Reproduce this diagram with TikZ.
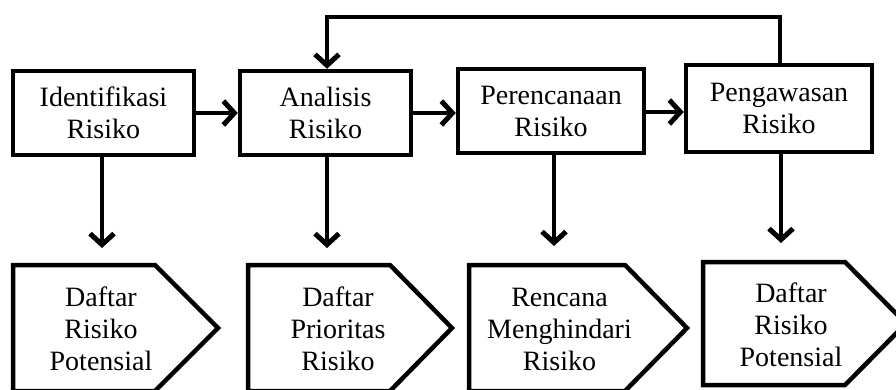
\documentclass[tikz,border=0pt]{standalone}
\usepackage{fontspec}
\setmainfont{Liberation Serif}
\usetikzlibrary{arrows.meta}
\begin{document}
\begin{tikzpicture}[x=1pt,y=-1pt,
  txt/.style={font=\fontsize{28}{32}\selectfont, align=center, inner sep=0pt},
  procbox/.style={draw, line width=4.5pt, txt, inner sep=0pt},
  outshape/.style={draw, line width=4.5pt, line join=miter},
  conn/.style={line width=4.5pt, -{Straight Barb[length=11pt,width=24pt,line width=5pt]}}
]
\useasboundingbox (0,0) rectangle (896,389);
\clip (0,0) rectangle (896,389);
\fill[white] (0,0) rectangle (896,389);

% process boxes
\node[procbox, minimum width=181pt, minimum height=84pt] (b1) at (103.5,113) {Identifikasi\\Risiko};
\node[procbox, minimum width=171pt, minimum height=84pt] (b2) at (325.5,113) {Analisis\\Risiko};
\node[procbox, minimum width=186pt, minimum height=84pt] (b3) at (551,111) {Perencanaan\\Risiko};
\node[procbox, minimum width=186pt, minimum height=87pt] (b4) at (779,108.5) {Pengawasan\\Risiko};

% output pentagons
\draw[outshape] (13,265) -- (155,265) -- (218,328) -- (155,391) -- (13,391) -- cycle;
\draw[outshape] (248,265) -- (390,265) -- (452,328) -- (390,391) -- (248,391) -- cycle;
\draw[outshape] (469,265) -- (625,265) -- (687,328) -- (625,391) -- (469,391) -- cycle;
\draw[outshape] (703,262) -- (845,262) -- (906,323.5) -- (845,385) -- (703,385) -- cycle;

\node[txt] (o1) at (101,329) {Daftar\\Risiko\\Potensial};
\node[txt] (o2) at (338,329) {Daftar\\Prioritas\\Risiko};
\node[txt] (o3) at (559.5,329) {Rencana\\Menghindari\\Risiko};
\node[txt] (o4) at (791,325) {Daftar\\Risiko\\Potensial};

% arrow end points above the outputs
\coordinate (e1) at (102,248);
\coordinate (e2) at (327,248);
\coordinate (e3) at (554,246);
\coordinate (e4) at (781,243);

% horizontal flow
\draw[conn] (b1.east) -- (b2.west);
\draw[conn] (b2.east) -- (b3.west |- b2.east);
\draw[conn] (b3.east |- 0,112) -- (b4.west |- 0,112);

% vertical arrows
\draw[conn] (b1.south -| e1) -- (e1);
\draw[conn] (b2.south -| e2) -- (e2);
\draw[conn] (b3.south -| e3) -- (e3);
\draw[conn] (b4.south -| e4) -- (e4);

% feedback loop
\coordinate (fb) at (780,17);
\draw[conn, line join=miter] (b4.north -| fb) -- (fb) -- (327,17) -- (b2.north -| e2);
\end{tikzpicture}
\end{document}
